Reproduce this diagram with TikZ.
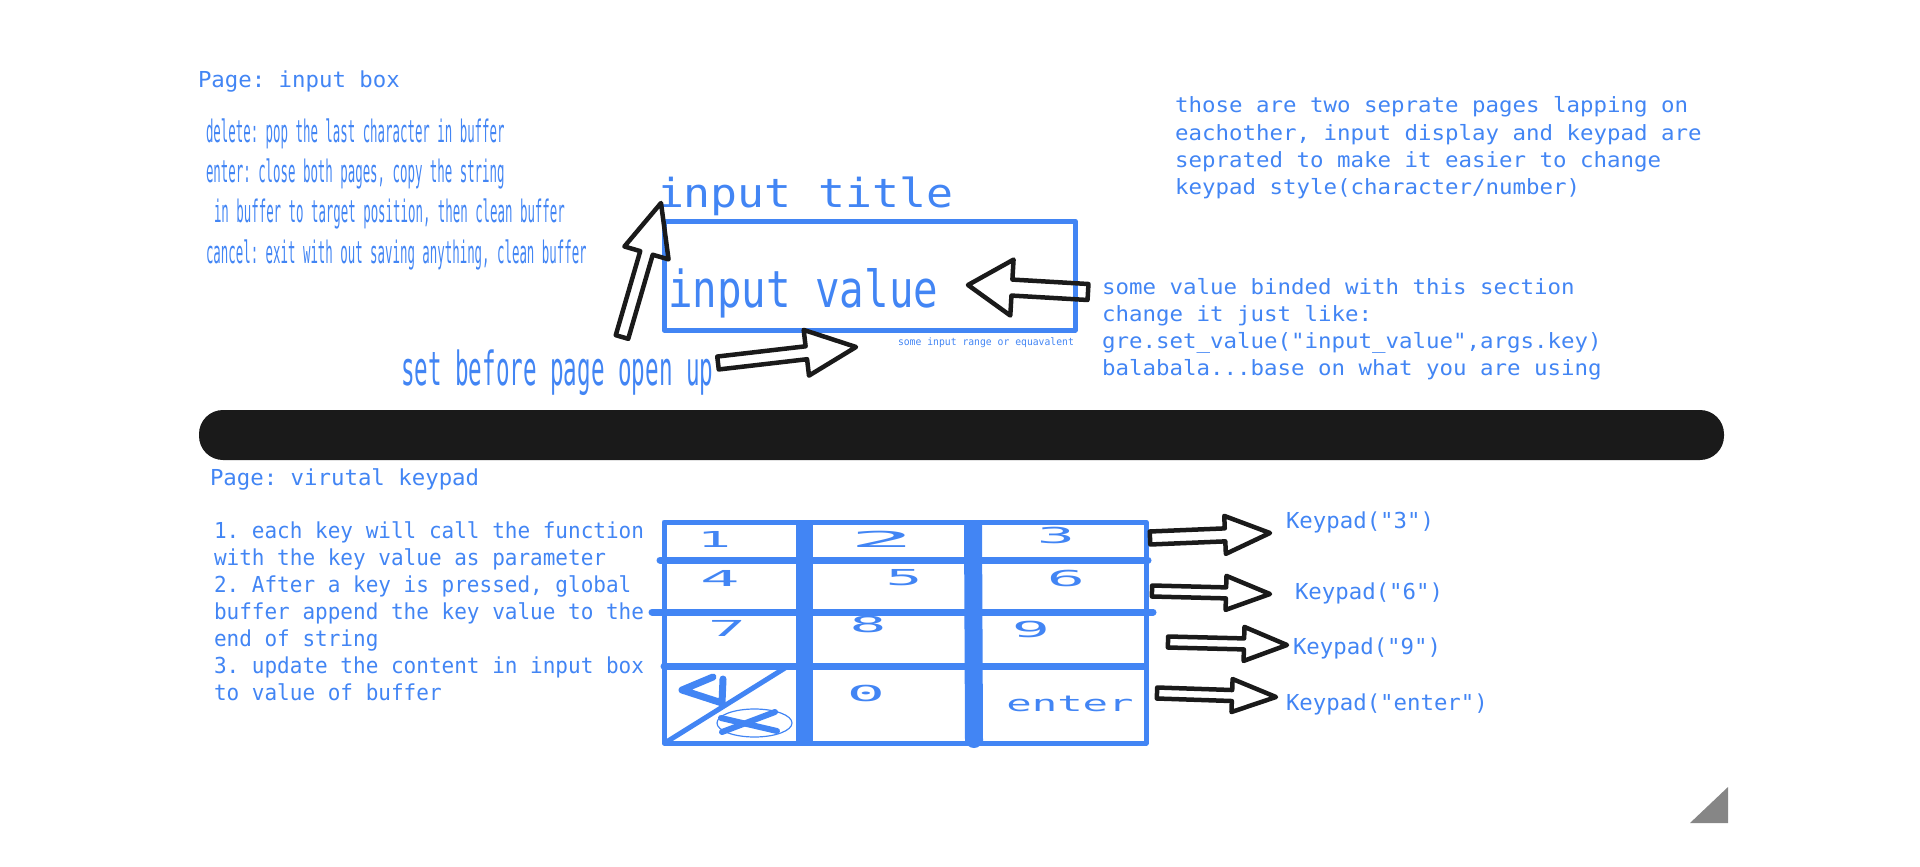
\documentclass[tikz,border=0pt]{standalone}
\usepackage{xcolor}
\usepackage{graphicx}
\usepackage{fontspec}
\usepackage{tikz}
\usetikzlibrary{calc}

\definecolor{padblue}{HTML}{4285F4}
\definecolor{padblack}{HTML}{1A1A1A}
\definecolor{cornergray}{HTML}{868686}

\newfontfamily\plainmono[FakeStretch=1.068]{DejaVu Sans Mono}
\newfontfamily\pagemono[FakeStretch=1.016]{DejaVu Sans Mono}
\newfontfamily\stepmono[FakeStretch=.955]{DejaVu Sans Mono}
\newfontfamily\thinmono[FakeStretch=.4]{DejaVu Sans Mono}
\newfontfamily\setmono[FakeStretch=.48]{DejaVu Sans Mono}
\newfontfamily\titlemono[FakeStretch=1.12]{DejaVu Sans Mono}
\newfontfamily\valuemono[FakeStretch=.8]{DejaVu Sans Mono}

\newcommand{\keylabel}[2]{\scalebox{#1}[1]{#2}}
\newcommand{\blockarrow}[5]{%
	\coordinate (neck) at ($(#2)!#5pt!(#1)$);
	\draw[blockline] ($(#1)!#3pt!90:(#2)$) -- ($(neck)!#3pt!90:(#2)$) -- ($(neck)!#4pt!90:(#2)$) -- (#2)
		-- ($(neck)!#4pt!-90:(#2)$) -- ($(neck)!#3pt!-90:(#2)$) -- ($(#1)!#3pt!-90:(#2)$) -- cycle;
}

\begin{document}
\frenchspacing
\begin{tikzpicture}[x=1pt, y=-1pt,
				every node/.style={text=padblue, inner sep=0pt, outer sep=0pt},
				line/.style={anchor=base west},
				blockline/.style={draw=padblack, line width=4.5pt, line join=round},
				padline/.style={draw=padblue, line width=5pt, line join=round, line cap=round},
				keyname/.style={font=\plainmono\fontsize{22}{27}\selectfont}]

				\useasboundingbox (0,0) rectangle (1920,867);

				% divider and corner mark
				\fill[padblack, rounded corners=24pt] (199,410) rectangle (1724,460);
				\fill[cornergray] (1690,823) -- (1728,787) -- (1728,823) -- cycle;

				% input box page
				\node (pagebox) [line, font=\pagemono\fontsize{22}{27}\selectfont] at (198,88) {Page: input box};
				\node (del) [line, font=\thinmono\fontsize{31}{40}\selectfont] at (206,142) {delete: pop the last character in buffer};
				\node (ent) [line, font=\thinmono\fontsize{31}{40}\selectfont] at (206,182) {enter: close both pages, copy the string};
				\node (buf) [line, font=\thinmono\fontsize{31}{40}\selectfont] at (214,222) {in buffer to target position, then clean buffer};
				\node (can) [line, font=\thinmono\fontsize{31}{40}\selectfont] at (206,263) {cancel: exit with out saving anything, clean buffer};

				\draw[padline] (664,221) rectangle (1075,330);
				\node (title) [line, font=\titlemono\fontsize{40}{48}\selectfont] at (657,207) {input title};
				\node (value) [line, font=\valuemono\fontsize{51}{58}\selectfont] at (668,307) {input value};
				\node (range) [line, font=\stepmono\fontsize{10.2}{13}\selectfont] at (898,345) {some input range or equavalent};
				\node (before) [line, font=\setmono\fontsize{47}{54}\selectfont] at (401,385) {set before page open up};

				\node (two1) [line, font=\plainmono\fontsize{21}{27}\selectfont] at (1175,113) {those are two seprate pages lapping on};
				\node (two2) [line, font=\plainmono\fontsize{21}{27}\selectfont] at (1175,140) {eachother, input display and keypad are};
				\node (two3) [line, font=\plainmono\fontsize{21}{27}\selectfont] at (1175,167) {seprated to make it easier to change};
				\node (two4) [line, font=\plainmono\fontsize{21}{27}\selectfont] at (1175,194) {keypad style(character/number)};

				\node (bind1) [line, font=\plainmono\fontsize{21}{27}\selectfont] at (1102,294) {some value binded with this section};
				\node (bind2) [line, font=\plainmono\fontsize{21}{27}\selectfont] at (1102,321) {change it just like:};
				\node (bind3) [line, font=\plainmono\fontsize{21}{27}\selectfont] at (1102,348) {gre.set\_value("input\_value",args.key)};
				\node (bind4) [line, font=\plainmono\fontsize{21}{27}\selectfont] at (1102,375) {balabala...base on what you are using};

				\coordinate (uptail) at (622,337);
				\coordinate (uptip) at (661,203);
				\coordinate (righttail) at (718,363);
				\coordinate (righttip) at (856,347);
				\coordinate (lefttail) at (1088,292);
				\coordinate (lefttip) at (968,285);
				\blockarrow{uptail}{uptip}{6.5}{23}{52}
				\blockarrow{righttail}{righttip}{6.5}{23}{50}
				\blockarrow{lefttail}{lefttip}{8}{28}{44}

				% keypad page
				\node (padpage) [line, font=\pagemono\fontsize{22}{27}\selectfont] at (210,485) {Page: virutal keypad};
				\node (step1) [line, font=\stepmono\fontsize{22}{27}\selectfont] at (214,538) {1. each key will call the function};
				\node (step2) [line, font=\stepmono\fontsize{22}{27}\selectfont] at (214,565) {with the key value as parameter};
				\node (step3) [line, font=\stepmono\fontsize{22}{27}\selectfont] at (214,592) {2. After a key is pressed, global};
				\node (step4) [line, font=\stepmono\fontsize{22}{27}\selectfont] at (214,619) {buffer append the key value to the};
				\node (step5) [line, font=\stepmono\fontsize{22}{27}\selectfont] at (214,646) {end of string};
				\node (step6) [line, font=\stepmono\fontsize{22}{27}\selectfont] at (214,673) {3. update the content in input box};
				\node (step7) [line, font=\stepmono\fontsize{22}{27}\selectfont] at (214,700) {to value of buffer};

				\draw[padline] (664,522) rectangle (1146,743);
				\draw[padline, line width=7pt] (660,560) -- (1148,560);
				\draw[padline, line width=7pt] (652,612) -- (1153,612);
				\draw[padline, line width=7pt] (664,666) -- (1145,666);
				\draw[padline, line cap=butt, line width=17pt] (804,522) -- (804,743);
				\draw[padline, line cap=butt, line width=18pt] (973,522) -- (974,741);
				\fill[padblue] (974,739) circle (9);
				\draw[padline] (785,668) -- (668,741);

				\node (key1) [keyname] at (714,539) {\keylabel{2.4}{1}};
				\node (key2) [keyname] at (882,539) {\keylabel{4.6}{2}};
				\node (key3) [keyname] at (1056,535) {\keylabel{2.7}{3}};
				\node (key4) [keyname] at (720,578) {\keylabel{2.8}{4}};
				\node (key5) [keyname] at (904,578) {\keylabel{2.6}{5}};
				\node (key6) [keyname] at (1066,578) {\keylabel{2.7}{6}};
				\node (key7) [keyname] at (727,628) {\keylabel{2.7}{7}};
				\node (key8) [keyname] at (868,624) {\keylabel{2.6}{8}};
				\node (key9) [keyname] at (1031,629) {\keylabel{2.7}{9}};
				\node (key0) [keyname] at (866,693) {\keylabel{2.7}{0}};
				\node (keyenter) [keyname] at (1070,704) {\keylabel{1.8}{enter}};

				% delete and cancel marks
				\draw[padline, line width=7pt] (713,677) -- (682,690) -- (722,703) -- (723,679);
				\draw[draw=padblue, line width=1.2pt] (754.5,723) ellipse (37.5 and 14);
				\draw[padline, line width=6pt] (721,718) -- (777,731);
				\draw[padline, line width=6pt] (722,732) -- (775,712);

				\node (out3) [line, font=\pagemono\fontsize{22}{27}\selectfont] at (1286,528) {Keypad("3")};
				\node (out6) [line, font=\pagemono\fontsize{22}{27}\selectfont] at (1295,599) {Keypad("6")};
				\node (out9) [line, font=\pagemono\fontsize{22}{27}\selectfont] at (1293,654) {Keypad("9")};
				\node (outenter) [line, font=\pagemono\fontsize{22}{27}\selectfont] at (1286,710) {Keypad("enter")};

				\coordinate (tail3) at (1150,538);
				\coordinate (tip3) at (1270,533);
				\coordinate (tail6) at (1152,591);
				\coordinate (tip6) at (1270,594);
				\coordinate (tail9) at (1168,642);
				\coordinate (tip9) at (1287,645);
				\coordinate (tailenter) at (1157,693);
				\coordinate (tipenter) at (1276,697);
				\blockarrow{tail3}{tip3}{6.5}{19}{45}
				\blockarrow{tail6}{tip6}{5.5}{17}{44}
				\blockarrow{tail9}{tip9}{5.5}{17}{43}
				\blockarrow{tailenter}{tipenter}{5.5}{16.5}{44}
			\end{tikzpicture}
\end{document}
